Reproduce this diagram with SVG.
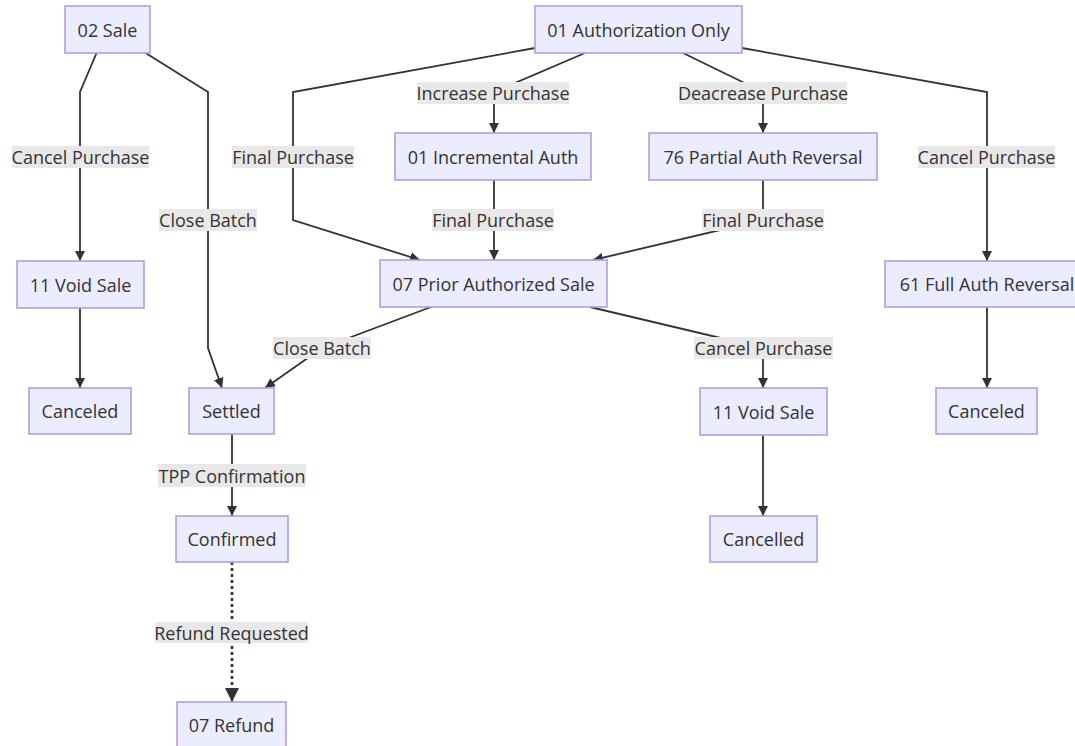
<svg xmlns="http://www.w3.org/2000/svg" width="1075" height="746" viewBox="0 0 1075 746">
<style>
.node rect{fill:#ECECFF;stroke:#b39ce8;stroke-width:1.6}
.node text{font-family:"Open Sans","DejaVu Sans",sans-serif;font-size:18px;fill:#333;text-anchor:middle;dominant-baseline:central}
.edge{fill:none;stroke:#333;stroke-width:1.8;marker-end:url(#arr)}
.dot{fill:none;stroke:#333;stroke-width:2.6;stroke-dasharray:3 3;marker-end:url(#arrBig)}
.lbl rect{fill:#e8e8e8}
.lbl text{font-family:"Open Sans","DejaVu Sans",sans-serif;font-size:18px;fill:#333;text-anchor:middle;dominant-baseline:central}
</style>
<defs>
<marker id="arr" viewBox="0 0 10 10" refX="10" refY="5" markerWidth="10" markerHeight="10" markerUnits="userSpaceOnUse" orient="auto"><path d="M0,0 L10,5 L0,10 z" fill="#333"/></marker>
<marker id="arrBig" viewBox="0 0 10 10" refX="10" refY="5" markerWidth="14" markerHeight="14" markerUnits="userSpaceOnUse" orient="auto"><path d="M0,0 L10,5 L0,10 z" fill="#333"/></marker>
</defs>
<rect width="1075" height="746" fill="#fff"/>
<g id="connectors">
<path class="edge" d="M97,52 L80,92 L80,261"/>
<path class="edge" d="M144,52 L208,92 L208,348 L222,388"/>
<path class="edge" d="M535,48 L293,92 L293,220 L420,260"/>
<path class="edge" d="M585,53 L494,92 L494,133"/>
<path class="edge" d="M683,53 L763,92 L763,133"/>
<path class="edge" d="M742,48 L987,92 L987,261"/>
<path class="edge" d="M494,180 L494,260"/>
<path class="edge" d="M763,180 L763,220 L593,260"/>
<path class="edge" d="M431,307 L322,348 L265,388"/>
<path class="edge" d="M590,307 L763,348 L763,388"/>
<path class="edge" d="M80,308 L80,388"/>
<path class="edge" d="M987,307 L987,388"/>
<path class="edge" d="M232,434 L232,516"/>
<path class="edge" d="M763,435 L763,516"/>
<path class="dot" d="M232,562 L232,702"/>
</g>
<g id="edge-labels">
<g class="lbl"><rect x="12" y="146" width="137" height="22"/><text x="80.5" y="157">Cancel Purchase</text></g>
<g class="lbl"><rect x="159" y="209" width="98" height="22"/><text x="208" y="220">Close Batch</text></g>
<g class="lbl"><rect x="232" y="146" width="122" height="22"/><text x="293" y="157">Final Purchase</text></g>
<g class="lbl"><rect x="417" y="82" width="152" height="22"/><text x="493" y="93">Increase Purchase</text></g>
<g class="lbl"><rect x="679" y="82" width="168" height="22"/><text x="763" y="93">Deacrease Purchase</text></g>
<g class="lbl"><rect x="918" y="146" width="137" height="22"/><text x="986.5" y="157">Cancel Purchase</text></g>
<g class="lbl"><rect x="432" y="209" width="122" height="22"/><text x="493" y="220">Final Purchase</text></g>
<g class="lbl"><rect x="702" y="209" width="122" height="22"/><text x="763" y="220">Final Purchase</text></g>
<g class="lbl"><rect x="273" y="337" width="98" height="22"/><text x="322" y="348">Close Batch</text></g>
<g class="lbl"><rect x="694" y="337" width="139" height="22"/><text x="763.5" y="348">Cancel Purchase</text></g>
<g class="lbl"><rect x="158" y="464" width="148" height="23"/><text x="232" y="475.5">TPP Confirmation</text></g>
<g class="lbl"><rect x="155" y="622" width="153" height="21"/><text x="231.5" y="632.5">Refund Requested</text></g>
</g>
<g id="n-sale" class="node"><rect x="65" y="6" width="85" height="47"/><text x="107.5" y="29.5">02 Sale</text></g>
<g id="n-authonly" class="node"><rect x="535" y="6" width="207" height="47"/><text x="638.5" y="29.5">01 Authorization Only</text></g>
<g id="n-incr" class="node"><rect x="395" y="133" width="196" height="47"/><text x="493" y="156.5">01 Incremental Auth</text></g>
<g id="n-partial" class="node"><rect x="649" y="133" width="228" height="47"/><text x="763" y="156.5">76 Partial Auth Reversal</text></g>
<g id="n-prior" class="node"><rect x="380" y="260" width="227" height="47"/><text x="493.5" y="283.5">07 Prior Authorized Sale</text></g>
<g id="n-void1" class="node"><rect x="17" y="261" width="127" height="47"/><text x="80.5" y="284.5">11 Void Sale</text></g>
<g id="n-canceled1" class="node"><rect x="29" y="388" width="102" height="46"/><text x="80" y="411">Canceled</text></g>
<g id="n-settled" class="node"><rect x="189" y="388" width="85" height="46"/><text x="231.5" y="411">Settled</text></g>
<g id="n-full" class="node"><rect x="885" y="261" width="204" height="46"/><text x="987" y="284">61 Full Auth Reversal</text></g>
<g id="n-canceled2" class="node"><rect x="936" y="388" width="101" height="46"/><text x="986.5" y="411">Canceled</text></g>
<g id="n-void2" class="node"><rect x="700" y="388" width="127" height="47"/><text x="763.5" y="411.5">11 Void Sale</text></g>
<g id="n-cancelled" class="node"><rect x="710" y="516" width="107" height="46"/><text x="763.5" y="539">Cancelled</text></g>
<g id="n-confirmed" class="node"><rect x="176" y="516" width="112" height="46"/><text x="232" y="539">Confirmed</text></g>
<g id="n-refund" class="node"><rect x="177" y="702" width="109" height="46"/><text x="231.5" y="725">07 Refund</text></g>
</svg>
